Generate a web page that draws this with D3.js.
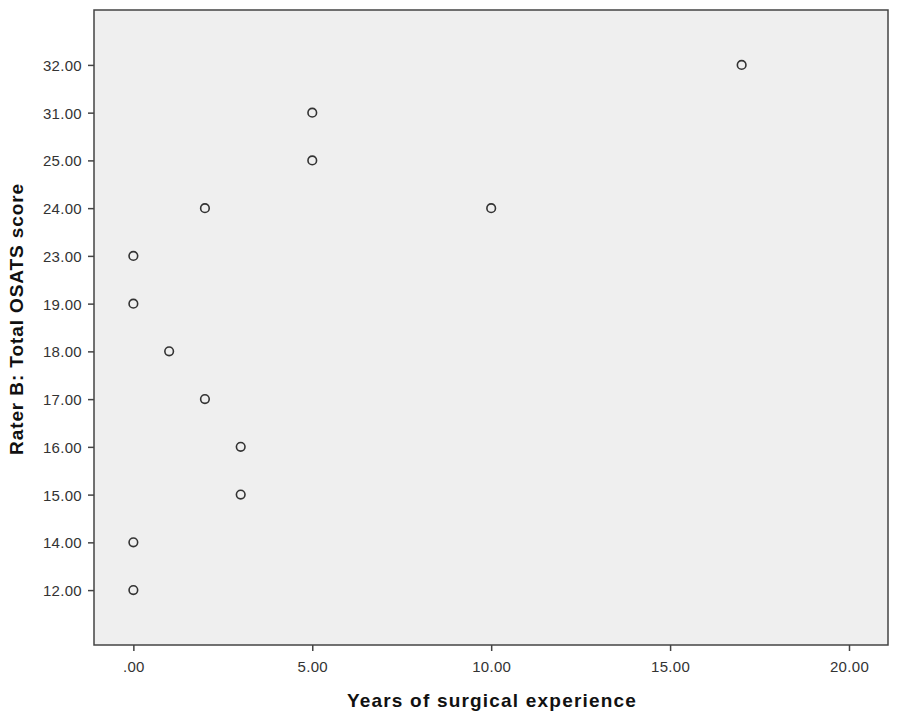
<!DOCTYPE html>
<html>
<head>
<meta charset="utf-8">
<script src="https://cdn.jsdelivr.net/npm/d3@7"></script>
<style>
  body { margin: 0; background: #fff; }
  text { font-family: "Liberation Sans", Arial, sans-serif; }
</style>
</head>
<body>
<svg id="chart"></svg>
<script>
// y axis in the original is categorical: only observed scores get a slot
const scoreLevels = [12, 14, 15, 16, 17, 18, 19, 23, 24, 25, 31, 32];
const xTicks = [0, 5, 10, 15, 20];

const years = [17, 5, 5, 2, 10, 0, 0, 1, 2, 3, 3, 0, 0];
const scores = [32, 31, 25, 24, 24, 23, 19, 18, 17, 16, 15, 14, 12];

const width = 898;
const height = 716;
const frame = { left: 94, top: 10, right: 888, bottom: 645 };

const svg = d3.select("#chart").attr("width", width).attr("height", height);

const x = d3.scaleLinear()
  .domain([-1.1, 21.09])
  .range([frame.left, frame.right]);

const y = d3.scalePoint()
  .domain(scoreLevels.slice().reverse())
  .range([frame.top, frame.bottom])
  .padding(1.15);

svg.append("rect")
  .attr("x", frame.left)
  .attr("y", frame.top)
  .attr("width", frame.right - frame.left)
  .attr("height", frame.bottom - frame.top)
  .attr("fill", "#efefef")
  .attr("stroke", "#444")
  .attr("stroke-width", 1.5);

const fmt = (d) => (d === 0 ? ".00" : d3.format(".2f")(d));

const xAxis = svg.append("g")
  .attr("transform", `translate(0,${frame.bottom})`)
  .call(d3.axisBottom(x).tickValues(xTicks).tickSize(6).tickFormat(fmt));

const yAxis = svg.append("g")
  .attr("transform", `translate(${frame.left},0)`)
  .call(d3.axisLeft(y).tickSize(6).tickFormat(fmt));

[xAxis, yAxis].forEach((g) => {
  g.select(".domain").remove();
  g.selectAll(".tick line").attr("stroke", "#444").attr("stroke-width", 1.5);
  g.selectAll(".tick text")
    .attr("fill", "#333")
    .style("font-size", "15px")
    .style("letter-spacing", "0.3px")
    .style("font-family", "'Liberation Sans', Arial, sans-serif");
});
xAxis.selectAll(".tick text").attr("y", 0).attr("dy", 0).attr("transform", "translate(0,27)");
yAxis.selectAll(".tick text").attr("x", -12).attr("dy", "0.36em");

svg.append("g")
  .selectAll("circle")
  .data(years.map((d, i) => ({ year: d, score: scores[i] })))
  .join("circle")
  .attr("cx", (d) => x(d.year))
  .attr("cy", (d) => y(d.score))
  .attr("r", 4.3)
  .attr("fill", "none")
  .attr("stroke", "#333")
  .attr("stroke-width", 1.6);

svg.append("text")
  .attr("x", 492)
  .attr("y", 707)
  .attr("text-anchor", "middle")
  .attr("fill", "#111")
  .style("font-size", "19px")
  .style("font-weight", "bold")
  .style("letter-spacing", "1.2px")
  .text("Years of surgical experience");

svg.append("text")
  .attr("transform", "translate(23,319) rotate(-90)")
  .attr("text-anchor", "middle")
  .attr("fill", "#111")
  .style("font-size", "19px")
  .style("font-weight", "bold")
  .style("letter-spacing", "0.9px")
  .text("Rater B: Total OSATS score");
</script>
</body>
</html>
